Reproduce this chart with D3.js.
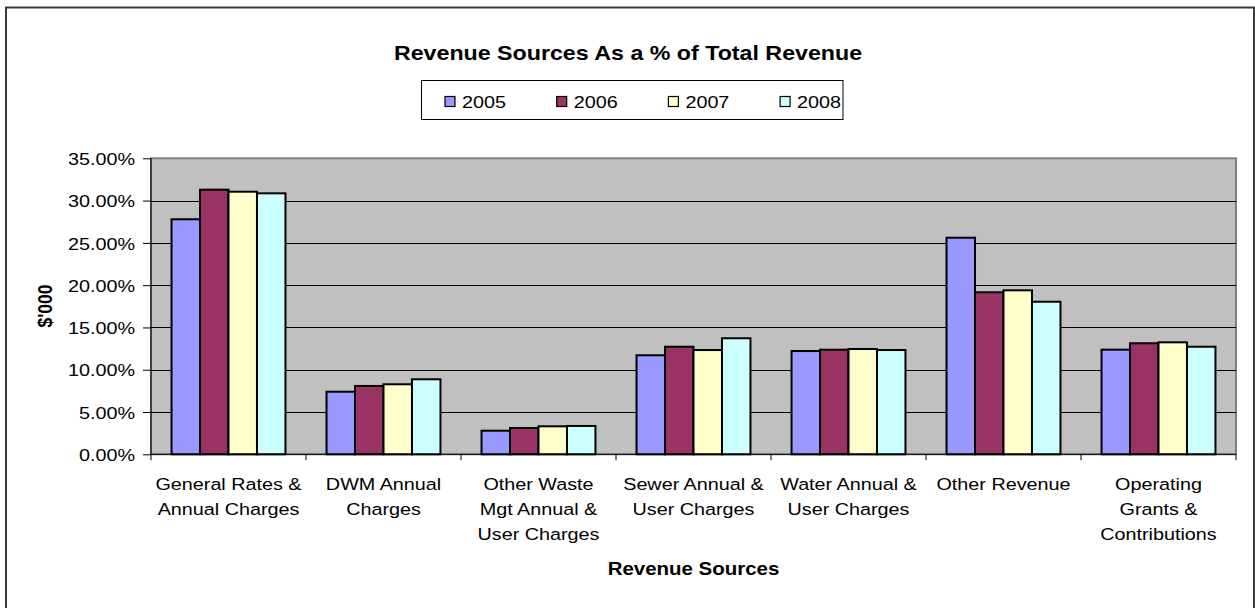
<!DOCTYPE html>
<html>
<head>
<meta charset="utf-8">
<script src="https://cdn.jsdelivr.net/npm/d3@7"></script>
<style>
  body { margin: 0; background: #fff; }
  svg { display: block; font-family: "Liberation Sans", Arial, sans-serif; }
  svg text { font-family: "Liberation Sans", Arial, sans-serif; }
</style>
</head>
<body>
<svg id="chart" width="1255" height="608"></svg>
<script>
// Revenue source categories and their wrapped axis labels
const categories = [
  "General Rates & Annual Charges",
  "DWM Annual Charges",
  "Other Waste Mgt Annual & User Charges",
  "Sewer Annual & User Charges",
  "Water Annual & User Charges",
  "Other Revenue",
  "Operating Grants & Contributions"
];
const categoryLines = [
  ["General Rates &", "Annual Charges"],
  ["DWM Annual", "Charges"],
  ["Other Waste", "Mgt Annual &", "User Charges"],
  ["Sewer Annual &", "User Charges"],
  ["Water Annual &", "User Charges"],
  ["Other Revenue"],
  ["Operating", "Grants &", "Contributions"]
];
const years = ["2005", "2006", "2007", "2008"];

// Share of total revenue (%), one array per year
const v2005 = [27.79, 7.40, 2.79, 11.71, 12.21, 25.61, 12.37];
const v2006 = [31.29, 8.08, 3.11, 12.72, 12.37, 19.16, 13.13];
const v2007 = [31.05, 8.28, 3.31, 12.33, 12.45, 19.39, 13.24];
const v2008 = [30.86, 8.87, 3.35, 13.72, 12.33, 18.04, 12.72];
const seriesValues = [v2005, v2006, v2007, v2008];

const yTicks = [0, 5, 10, 15, 20, 25, 30, 35];
const colors = ["#9999FF", "#993366", "#FFFFCC", "#CCFFFF"];

// ---- layout ----
const plot = { left: 151, right: 1236, top: 158.3, bottom: 454.3 };
const SX = 1.15; // horizontal stretch applied to all text
const FONT = "'Liberation Sans', Arial, sans-serif";

const svg = d3.select("#chart");

// outer chart frame (bottom edge runs off the page)
svg.append("rect")
  .attr("x", 6).attr("y", 7.5)
  .attr("width", 1248).attr("height", 640)
  .attr("fill", "#fff")
  .attr("stroke", "#3a3a3a").attr("stroke-width", 2);

// title
svg.append("text")
  .attr("transform", `translate(628,60) scale(${SX},1)`)
  .attr("text-anchor", "middle")
  .attr("font-family", FONT)
  .attr("font-size", 20.2).attr("font-weight", "bold")
  .text("Revenue Sources As a % of Total Revenue");

// scales
const x0 = d3.scaleBand().domain(categories).range([plot.left, plot.right]).padding(0);
const bw = x0.bandwidth();
const gap = bw * 0.265;
const x1 = d3.scaleBand().domain(years).range([gap / 2, bw - gap / 2]).padding(0);
const y = d3.scaleLinear().domain([0, 35]).range([plot.bottom, plot.top]);
const color = d3.scaleOrdinal().domain(years).range(colors);

// plot background
svg.append("rect")
  .attr("x", plot.left).attr("y", plot.top)
  .attr("width", plot.right - plot.left).attr("height", plot.bottom - plot.top)
  .attr("fill", "#C0C0C0")
  .attr("stroke", "#808080").attr("stroke-width", 2);

// horizontal gridlines
svg.append("g")
  .selectAll("line")
  .data(yTicks.filter(t => t > 0 && t < 35))
  .join("line")
  .attr("x1", plot.left).attr("x2", plot.right)
  .attr("y1", d => Math.round(y(d)) + 0.5).attr("y2", d => Math.round(y(d)) + 0.5)
  .attr("stroke", "#000").attr("stroke-width", 1);

// bars
const groups = svg.append("g")
  .selectAll("g")
  .data(categories)
  .join("g")
  .attr("transform", d => `translate(${x0(d)},0)`);

groups.selectAll("rect")
  .data((c, i) => years.map((yr, k) => ({ yr, v: seriesValues[k][i] })))
  .join("rect")
  .attr("x", d => x1(d.yr))
  .attr("y", d => y(d.v))
  .attr("width", x1.bandwidth())
  .attr("height", d => y(0) - y(d.v))
  .attr("fill", d => color(d.yr))
  .attr("stroke", "#000").attr("stroke-width", 2);

// y axis
const gy = svg.append("g")
  .attr("transform", `translate(${plot.left},0)`)
  .call(d3.axisLeft(y).tickValues(yTicks).tickSize(8).tickFormat(d => d.toFixed(2) + "%"));
gy.select(".domain").attr("stroke", "#000").attr("d", `M0,${plot.top}V${plot.bottom}`);
gy.selectAll(".tick line").attr("stroke", "#000");
gy.selectAll(".tick text")
  .attr("x", null).attr("dy", null)
  .attr("transform", `translate(-16,6.2) scale(${SX},1)`)
  .attr("font-size", 17.2).attr("fill", "#000")
  .attr("font-family", FONT);

// x axis: labels centred in each band, ticks on the band boundaries
const gx = svg.append("g")
  .attr("transform", `translate(0,${plot.bottom})`)
  .call(d3.axisBottom(x0).tickSize(0).tickFormat(""));
gx.select(".domain").attr("stroke", "#000").attr("d", `M${plot.left},0H${plot.right}`);

gx.selectAll(".boundary")
  .data(categories.map(c => x0(c)).concat([plot.right]))
  .join("line")
  .attr("class", "boundary")
  .attr("x1", d => d).attr("x2", d => d)
  .attr("y1", 0).attr("y2", 6)
  .attr("stroke", "#000");

gx.selectAll(".tick text").each(function (d, i) {
  const t = d3.select(this)
    .attr("y", null).attr("dy", null)
    .attr("transform", `translate(0,36) scale(${SX},1)`)
    .attr("font-size", 17.2).attr("fill", "#000")
    .attr("font-family", FONT)
    .attr("text-anchor", "middle");
  t.text(null);
  categoryLines[i].forEach((line, j) => {
    t.append("tspan").attr("x", 0).attr("y", j * 25).text(line);
  });
});

// axis titles
svg.append("text")
  .attr("transform", `translate(${(plot.left + plot.right) / 2},575) scale(${SX},1)`)
  .attr("text-anchor", "middle")
  .attr("font-family", FONT)
  .attr("font-size", 17.8).attr("font-weight", "bold")
  .text("Revenue Sources");

svg.append("text")
  .attr("transform", `translate(52,306) rotate(-90) scale(1,${SX})`)
  .attr("text-anchor", "middle")
  .attr("font-family", FONT)
  .attr("font-size", 17.5).attr("font-weight", "bold")
  .text("$'000");

// legend
const legend = svg.append("g");
legend.append("rect")
  .attr("x", 421.5).attr("y", 80.5)
  .attr("width", 421.5).attr("height", 39)
  .attr("fill", "#fff").attr("stroke", "#000").attr("stroke-width", 1);

const items = legend.selectAll("g.item")
  .data(years)
  .join("g")
  .attr("class", "item")
  .attr("transform", (d, i) => `translate(${445 + i * 111.7},0)`);
items.append("rect")
  .attr("x", 0).attr("y", 96.5)
  .attr("width", 10).attr("height", 10)
  .attr("fill", d => color(d))
  .attr("stroke", "#000").attr("stroke-width", 1.2);
items.append("text")
  .attr("transform", `translate(17,108) scale(${SX},1)`)
  .attr("font-family", FONT)
  .attr("font-size", 17.2)
  .text(d => d);
</script>
</body>
</html>
